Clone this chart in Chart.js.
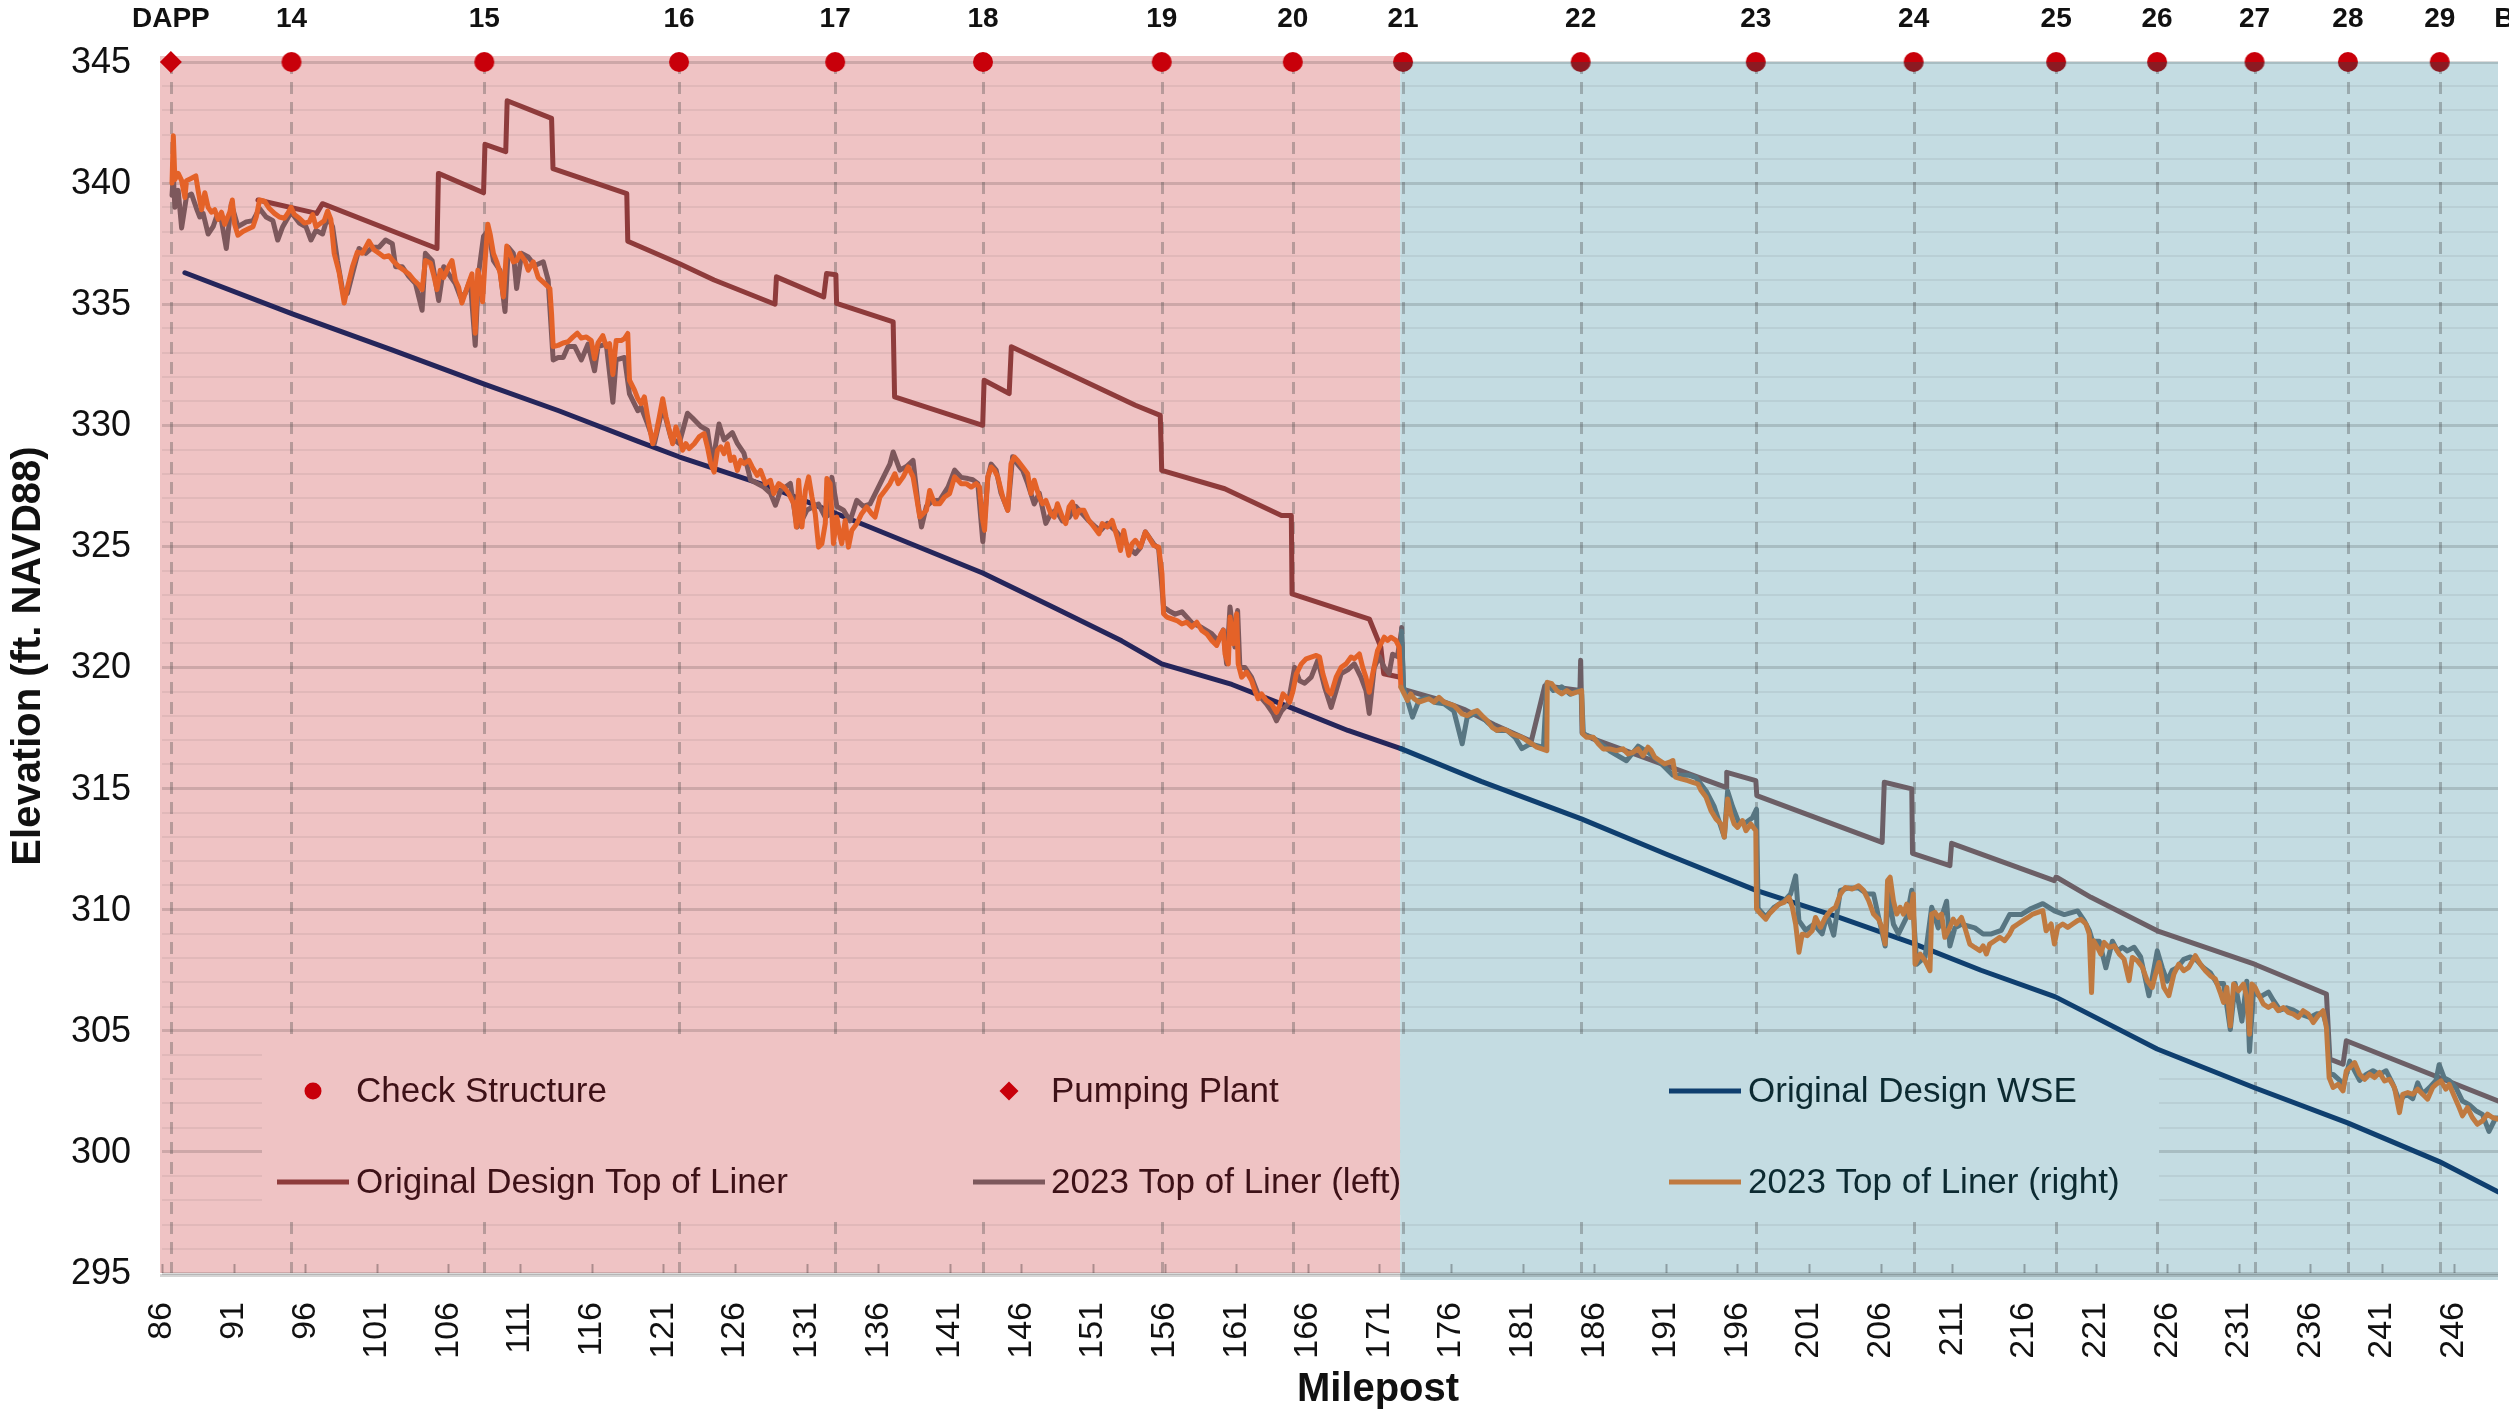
<!DOCTYPE html>
<html>
<head>
<meta charset="utf-8">
<title>Elevation profile by milepost</title>
<script src="https://cdn.jsdelivr.net/npm/chart.js@4.4.1/dist/chart.umd.min.js"></script>
<style>
  html, body { margin: 0; padding: 0; background: #ffffff; overflow: hidden; }
  #profile { display: block; }
</style>
</head>
<body>
<canvas id="profile" width="2509" height="1411"></canvas>
<script>
// ---------------- data ----------------
// Structures along the canal: names shown above the plot, markers on the 345 ft line
const structureNames = ['DAPP','14','15','16','17','18','19','20','21','22','23','24','25','26','27','28','29','BVPP'];
const structureMileposts = [86.62,95.04,108.5,122.1,133.0,143.32,155.8,164.95,172.65,185.05,197.28,208.3,218.25,225.3,232.1,238.62,245.03,251.5];
const structureKinds = ['pump','check','check','check','check','check','check','check','check','check','check','check','check','check','check','check','check','pump'];

const xTickValues = [86,91,96,101,106,111,116,121,126,131,136,141,146,151,156,161,166,171,176,181,186,191,196,201,206,211,216,221,226,231,236,241,246];
const yTickValues = [295,300,305,310,315,320,325,330,335,340,345];

// milepost where the first (red) reach ends and the second (blue) reach starts
const reachBoundary = 172.45;

// [milepost, elevation ft]
const wseProfile = [[87.6,336.3],[95.1,334.6],[102.1,333.1],[108.5,331.7],[113.7,330.6],[119.2,329.35],[122.1,328.7],[128.5,327.45],[135.4,325.8],[143.3,323.9],[148.2,322.5],[153.0,321.1],[155.8,320.15],[160.7,319.3],[165.0,318.3],[168.8,317.4],[172.5,316.65],[178.1,315.3],[185.1,313.75],[191.0,312.3],[197.3,310.8],[203.0,309.7],[208.3,308.6],[213.0,307.5],[218.2,306.4],[225.3,304.25],[232.1,302.65],[238.6,301.2],[245.0,299.6],[249.1,298.35]];

const designLiner = [[92.7,339.3],[96.8,338.75],[97.2,339.15],[105.2,337.3],[105.3,340.4],[108.45,339.6],[108.55,341.6],[110.0,341.3],[110.1,343.4],[113.2,342.67],[113.3,340.6],[118.45,339.57],[118.52,337.6],[122.1,336.68],[124.55,336.0],[128.8,335.0],[128.9,336.13],[132.2,335.3],[132.4,336.27],[133.05,336.22],[133.1,335.03],[137.05,334.27],[137.15,331.17],[143.3,330.0],[143.4,331.86],[145.15,331.31],[145.3,333.24],[153.96,330.83],[155.7,330.41],[155.8,328.14],[160.2,327.38],[164.16,326.28],[164.85,326.28],[164.9,323.04],[170.3,322.0],[171.1,320.84],[171.3,319.74],[172.45,319.6],[172.55,321.65],[172.68,319.1],[175.0,318.7],[177.0,318.25],[179.0,317.65],[181.6,316.95],[182.55,319.25],[185.0,319.05],[185.05,320.3],[185.15,317.3],[185.93,317.05],[195.2,315.05],[195.25,315.67],[197.28,315.33],[197.35,314.71],[206.1,312.78],[206.25,315.26],[208.17,314.99],[208.22,312.33],[210.83,311.82],[210.95,312.74],[218.12,311.2],[218.25,311.35],[220.68,310.51],[225.31,309.13],[232.1,307.75],[237.12,306.52],[237.36,303.83],[238.28,303.62],[238.51,304.59],[249.1,302.1]];

const liner2023Left = [[86.7,339.5],[86.79,340.3],[86.9,339.0],[87.13,339.7],[87.37,338.15],[87.71,339.45],[88.06,339.55],[88.41,338.95],[88.64,338.6],[88.87,338.75],[89.22,337.9],[89.57,338.2],[89.8,338.6],[90.15,338.45],[90.49,337.3],[90.84,339.15],[91.3,338.2],[91.88,338.4],[92.35,338.45],[92.81,338.95],[93.27,338.6],[93.74,338.45],[94.08,337.65],[94.43,338.2],[95.01,338.8],[95.59,338.35],[96.05,338.2],[96.4,337.65],[96.75,338.05],[97.21,337.9],[97.56,338.6],[97.91,338.2],[98.25,336.8],[98.6,335.6],[98.95,335.45],[99.3,336.25],[99.76,337.3],[100.22,337.1],[100.69,337.35],[101.15,337.35],[101.61,337.65],[102.08,337.5],[102.31,336.55],[102.77,336.55],[103.23,336.15],[103.7,335.85],[104.16,334.75],[104.39,337.1],[104.86,336.8],[105.32,335.15],[105.67,336.55],[106.01,336.25],[106.48,335.85],[106.83,335.3],[107.17,335.45],[107.52,336.0],[107.87,333.3],[108.1,336.25],[108.45,337.8],[108.79,338.05],[109.14,336.8],[109.6,336.4],[109.95,334.7],[110.18,337.35],[110.53,337.1],[110.76,335.65],[111.11,337.1],[111.57,336.95],[112.04,336.6],[112.62,336.75],[112.96,336.0],[113.31,332.7],[113.66,332.8],[114.01,332.8],[114.35,333.25],[114.82,333.25],[115.28,332.7],[115.74,333.35],[116.2,332.25],[116.44,333.25],[117.02,333.35],[117.48,330.95],[117.71,332.7],[118.29,332.8],[118.64,331.3],[119.22,330.6],
  [119.45,330.75],[119.91,330.05],[120.38,329.25],[120.96,330.75],[121.53,329.5],[122.11,329.25],[122.69,330.5],[123.04,330.3],[123.62,329.95],[124.08,329.8],[124.43,328.4],[124.89,330.05],[125.24,329.4],[125.82,329.7],[126.17,329.25],[126.63,328.85],[127.09,327.75],[127.56,327.6],[128.02,327.45],[128.48,327.2],[128.83,326.7],[129.18,327.3],[129.87,327.6],[130.34,325.8],[130.57,325.95],[131.03,326.5],[131.5,326.65],[131.84,326.75],[132.31,326.2],[132.54,326.3],[132.77,327.85],[133.12,326.65],[133.58,326.5],[134.04,326.05],[134.51,326.9],[134.97,326.65],[135.43,326.75],[135.9,327.3],[136.36,327.85],[136.82,328.4],[137.05,328.9],[137.52,328.15],[137.98,328.3],[138.44,328.55],[138.79,326.75],[139.03,325.8],[139.37,326.65],[139.83,326.9],[140.3,326.9],[140.88,327.45],[141.34,328.15],[141.8,327.85],[142.27,327.8],[142.61,327.75],[142.96,327.6],[143.31,325.2],[143.66,327.85],[143.89,328.4],[144.24,328.15],[144.58,327.2],[145.05,326.5],[145.39,328.7],[145.74,328.4],[146.09,328.15],[146.44,327.6],[146.9,326.75],[147.25,327.2],[147.71,325.95],[148.06,326.35],[148.41,326.5],[148.87,326.05],[149.33,326.2],[149.8,326.65],[150.26,326.35],[150.72,326.05],[151.19,325.8],[151.53,325.65],[152.0,325.95],[152.57,325.65],[152.92,325.4],
  [153.04,325.4],[153.5,324.95],[153.96,324.7],[154.31,324.95],[154.66,325.6],[155.24,325.1],[155.59,324.9],[155.93,322.5],[156.28,322.35],[156.74,322.2],[157.21,322.3],[157.9,321.85],[158.6,321.65],[159.29,321.4],[159.75,321.1],[160.1,321.55],[160.33,320.15],[160.57,322.5],[160.91,320.85],[161.1,322.35],[161.26,320.0],[161.61,320.0],[162.07,319.6],[162.53,318.9],[163.11,318.5],[163.58,318.1],[163.81,317.8],[164.16,318.2],[164.62,318.5],[165.08,320.0],[165.43,319.45],[165.78,319.35],[166.24,319.6],[166.7,320.3],[167.17,319.2],[167.63,318.35],[167.98,319.05],[168.33,319.75],[168.79,319.9],[169.25,320.15],[169.71,319.6],[170.06,319.05],[170.29,318.1],[170.64,320.0],[170.99,320.45],[171.34,320.0],[171.68,319.75],[171.92,320.55],[172.26,320.45],[172.54,321.5],[172.68,319.2],[172.96,318.65],[173.31,317.95],[173.77,318.65],[174.35,318.75],[174.93,318.55],[175.51,318.5],[176.2,318.2],[176.78,316.85],[177.13,317.95],[177.82,318.15],[178.52,317.75],[179.21,317.4],[179.91,317.4],[180.49,317.1],[180.95,316.65],[181.53,316.85],[182.45,316.7],[182.69,319.35],[183.15,319.05],[183.73,319.2],[184.31,318.9],[184.89,319.05],[185.12,318.9],[185.24,317.25],
  [185.93,317.1],[187.09,316.55],[188.25,316.15],[189.06,316.75],[189.87,316.45],[190.56,316.1],[191.49,315.55],[192.07,315.55],[192.65,315.55],[193.11,315.45],[193.81,314.9],[194.38,314.25],[195.08,313.0],[195.31,314.9],[195.66,314.25],[196.12,313.55],[196.59,313.6],[197.05,313.8],[197.33,314.15],[197.44,310.05],[197.98,309.7],[198.55,310.1],[199.25,310.35],[199.71,310.65],[200.06,311.4],[200.29,309.55],[200.76,309.15],[201.33,309.4],[201.91,309.0],[202.26,309.8],[202.72,308.95],[203.19,310.8],[203.77,310.9],[204.46,310.9],[205.04,310.65],[205.5,310.65],[205.85,309.7],[206.31,308.5],[206.55,310.65],[206.89,309.4],[207.24,309.0],[207.82,309.7],[208.17,310.8],[208.52,307.75],[209.1,308.05],[209.56,310.1],[210.02,309.25],[210.6,310.35],[210.83,308.5],[211.18,309.25],[211.64,309.4],[212.57,309.25],[213.15,309.0],[213.73,309.0],[214.42,309.15],[215.0,309.8],[215.81,309.8],[216.51,310.05],[217.32,310.25],[218.13,309.95],[218.82,309.8],[219.75,309.95],
  [220.21,309.55],[220.56,309.15],[220.79,308.7],[221.26,308.7],[221.72,307.6],[222.18,308.7],[222.53,308.3],[222.88,308.45],[223.22,308.3],[223.69,308.45],[224.15,308.05],[224.73,306.45],[225.31,308.3],[225.66,307.6],[226.0,307.05],[226.35,307.5],[226.7,307.6],[227.16,307.95],[227.63,308.05],[228.09,307.9],[228.55,307.6],[229.02,307.4],[229.48,306.95],[229.94,306.95],[230.41,305.05],[230.75,306.95],[231.22,305.4],[231.56,307.05],[231.75,304.15],[232.03,306.65],[232.49,306.4],[233.07,306.6],[233.42,306.25],[233.88,305.85],[234.34,305.95],[234.81,305.85],[235.27,305.7],[235.96,305.55],[236.43,305.7],[236.89,305.7],[237.17,305.15],[237.36,303.2],[237.59,303.2],[238.05,302.95],[238.28,302.65],[238.75,303.75],[239.09,303.35],[239.44,302.95],[239.9,303.2],[240.37,303.35],[240.83,303.2],[241.29,303.35],[241.76,302.8],[242.22,302.1],[242.68,302.4],[243.15,302.2],[243.49,302.85],[243.84,302.4],[244.31,302.65],[244.77,302.95],[244.99,303.6],[245.35,303.05],[245.69,302.95],[246.16,302.65],[246.62,302.1],[247.08,301.95],[247.55,301.7],[248.01,301.55],[248.47,300.85],[248.94,301.4],[249.1,301.4]];

const liner2023Right = [[86.7,340.0],[86.79,341.95],[86.9,340.15],[87.13,340.4],[87.37,340.1],[87.6,339.4],[87.71,340.1],[88.06,340.2],[88.36,340.3],[88.52,339.7],[88.76,338.9],[88.99,339.6],[89.22,339.0],[89.45,338.8],[89.68,338.9],[89.92,338.5],[90.15,338.8],[90.38,338.3],[90.73,338.8],[90.91,339.3],[91.07,338.3],[91.3,337.85],[91.65,338.0],[92.0,338.1],[92.35,338.2],[92.58,338.6],[92.81,339.3],[93.16,339.25],[93.5,338.95],[93.85,338.75],[94.2,338.6],[94.55,338.55],[94.78,338.75],[95.01,339.0],[95.24,338.7],[95.59,338.55],[95.94,338.35],[96.28,338.4],[96.52,338.7],[96.75,338.2],[97.1,338.35],[97.33,338.45],[97.56,338.85],[97.79,338.5],[98.02,337.1],[98.37,336.3],[98.72,335.05],[98.95,335.7],[99.3,336.55],[99.64,337.15],[99.99,337.1],[100.45,337.6],[100.8,337.25],[101.15,337.1],[101.5,336.95],[101.84,337.0],[102.19,336.75],[102.54,336.55],[102.89,336.4],[103.23,336.25],[103.58,336.0],[103.93,335.8],[104.16,335.6],[104.39,336.8],[104.74,336.7],[104.97,336.2],[105.2,335.6],[105.43,336.4],[105.67,336.1],[106.01,336.55],[106.25,336.8],[106.48,336.0],[106.71,335.7],[106.94,335.05],[107.17,335.45],[107.4,335.85],[107.64,336.25],[107.87,333.8],[108.05,336.4],[108.21,336.0],[108.38,335.1],[108.56,336.8],[108.75,338.3],[108.91,337.9],[109.14,337.1],[109.37,336.75],[109.6,336.3],[109.84,335.3],[110.07,337.4],[110.3,337.1],[110.53,336.75],[110.76,336.8],[110.99,337.1],[111.34,336.8],[111.57,336.4],[111.92,336.75],[112.27,336.1],[112.73,335.85],[113.08,335.65],[113.2,334.6],[113.31,333.25],[113.66,333.3],[114.01,333.4],[114.35,333.45],[114.7,333.65],[115.0,333.8],[115.28,333.6],[115.63,333.65],[115.97,333.5],[116.2,332.75],[116.44,333.4],[116.78,333.7],[117.02,333.25],[117.25,333.37],[117.48,332.1],[117.71,333.5],[118.06,333.5],[118.29,333.58],[118.52,333.79],[118.64,331.86],[118.99,331.45],[119.22,331.1],
  [119.45,330.9],[119.68,331.17],[119.91,330.34],[120.26,329.24],[120.49,329.66],[120.72,330.34],[120.96,331.1],[121.19,330.34],[121.42,329.79],[121.65,329.24],[121.88,329.93],[122.11,329.52],[122.35,328.97],[122.58,329.24],[122.81,329.04],[123.16,329.24],[123.5,329.52],[123.85,329.66],[124.08,329.11],[124.31,328.42],[124.55,328.07],[124.78,328.97],[125.01,329.11],[125.24,328.83],[125.47,329.24],[125.7,328.55],[125.93,328.69],[126.17,328.14],[126.4,328.55],[126.63,328.42],[126.98,328.55],[127.21,328.28],[127.56,327.93],[127.79,328.14],[128.14,327.59],[128.48,327.73],[128.72,327.18],[129.06,327.59],[129.41,327.45],[129.76,327.18],[130.11,326.76],[130.29,325.8],[130.45,327.73],[130.68,325.8],[130.92,327.31],[131.15,327.87],[131.38,327.04],[131.61,326.35],[131.84,324.97],[132.07,325.11],[132.31,325.94],[132.42,327.8],[132.65,327.59],[132.88,325.11],[133.12,326.21],[133.35,325.39],[133.46,325.11],[133.7,326.07],[133.93,324.97],[134.16,325.66],[134.51,325.94],[134.85,326.35],[135.2,326.63],[135.55,326.35],[135.78,326.21],[136.13,327.04],[136.48,327.31],[136.82,327.59],[137.17,328.0],[137.4,327.59],[137.75,327.87],[138.1,328.28],[138.44,327.87],[138.68,327.04],[138.91,326.21],[139.37,326.49],[139.6,327.31],[139.95,326.76],[140.3,326.76],[140.64,327.04],[140.99,327.18],[141.34,327.87],[141.57,327.73],[141.8,327.59],[142.15,327.59],[142.5,327.45],[142.85,327.59],[143.08,327.45],[143.26,326.21],[143.43,325.66],[143.66,327.87],[143.89,328.28],[144.12,328.14],[144.35,327.87],[144.7,327.04],[145.05,326.49],[145.28,328.42],[145.51,328.69],[145.74,328.55],[146.09,328.28],[146.44,328.0],[146.67,327.18],[146.9,327.73],[147.25,327.04],[147.48,326.76],[147.71,326.9],[148.06,326.35],[148.29,326.21],[148.52,326.76],[148.87,326.21],[149.1,325.94],[149.33,326.63],[149.56,326.83],[149.8,326.21],[150.03,326.49],[150.37,326.49],[150.72,326.07],[151.07,325.8],[151.42,325.52],[151.65,325.94],[152.0,325.8],[152.34,326.07],[152.69,325.39],[152.92,324.83],[153.15,325.66],[153.5,324.63],[153.73,325.11],
  [153.96,325.25],[154.31,324.97],[154.66,325.59],[154.89,325.39],[155.24,325.04],[155.59,324.97],[155.82,323.87],[155.93,322.22],[156.16,322.08],[156.51,322.01],[156.86,321.94],[157.21,321.8],[157.55,321.87],[157.9,321.67],[158.25,321.87],[158.6,321.53],[158.94,321.39],[159.29,321.12],[159.64,320.91],[159.94,321.39],[160.1,321.53],[160.22,320.56],[160.45,320.15],[160.57,322.08],[160.8,320.98],[161.03,322.22],[161.14,320.15],[161.38,319.6],[161.72,319.81],[162.07,319.46],[162.3,319.05],[162.53,318.71],[162.77,318.91],[163.11,318.64],[163.46,318.5],[163.81,318.15],[164.04,318.43],[164.27,318.91],[164.5,318.77],[164.74,318.57],[164.97,319.05],[165.2,319.74],[165.55,320.15],[165.89,320.36],[166.24,320.43],[166.59,320.5],[166.82,320.43],[167.05,319.74],[167.4,319.05],[167.63,318.91],[167.98,319.6],[168.33,320.01],[168.67,320.15],[169.02,320.43],[169.25,320.36],[169.6,320.56],[169.83,320.01],[170.06,319.6],[170.29,318.98],[170.53,319.74],[170.87,320.7],[171.1,320.98],[171.34,321.25],[171.57,321.12],[171.8,321.25],[172.15,321.12],[172.38,320.84],[172.5,319.19],[172.73,318.91],[172.96,318.64],[173.19,318.91],[173.42,318.71],[173.77,318.57],[174.12,318.64],[174.46,318.71],[174.81,318.57],[175.16,318.77],[175.51,318.57],[175.85,318.5],[176.2,318.43],[176.55,318.22],[176.78,318.08],[177.13,318.01],[177.48,318.15],[177.82,318.22],[178.17,318.01],[178.52,317.81],[178.87,317.53],[179.21,317.4],[179.56,317.46],[179.91,317.4],[180.26,317.26],[180.6,317.19],[180.95,317.12],[181.3,316.98],[181.65,316.85],[181.99,316.71],[182.34,316.64],[182.69,316.57],[182.72,319.39],[183.03,319.33],[183.38,319.05],[183.73,318.91],[184.08,319.05],[184.42,318.91],[184.77,318.98],[185.12,319.05],[185.19,317.26],[185.47,317.12],
  [185.93,317.12],[186.28,316.85],[186.62,316.64],[187.09,316.64],[187.55,316.57],[188.01,316.64],[188.36,316.43],[188.71,316.5],[189.06,316.64],[189.4,316.36],[189.75,316.71],[189.98,316.57],[190.22,316.3],[190.56,316.16],[190.91,316.02],[191.26,316.09],[191.49,316.16],[191.67,315.47],[192.07,315.4],[192.53,315.33],[192.88,315.26],[193.23,315.19],[193.46,314.92],[193.81,314.64],[194.15,314.09],[194.5,313.75],[194.85,313.54],[195.08,313.0],[195.31,314.57],[195.54,313.95],[195.77,313.54],[196.01,313.4],[196.35,313.68],[196.59,313.26],[196.93,313.54],[197.28,313.26],[197.33,310.03],[197.63,309.82],[197.98,309.61],[198.21,309.82],[198.55,310.03],[198.9,310.23],[199.25,310.3],[199.6,310.51],[199.83,310.1],[200.06,309.41],[200.29,308.24],[200.52,308.99],[200.87,308.93],[201.22,309.13],[201.45,309.68],[201.8,309.27],[202.14,309.68],[202.49,309.96],[202.84,310.1],[203.19,310.65],[203.53,310.92],[204.0,310.85],[204.46,310.99],[204.81,310.79],[205.16,310.37],[205.5,309.82],[205.85,309.61],[206.08,309.27],[206.31,308.58],[206.48,311.2],[206.66,311.34],[206.89,310.37],[207.12,309.82],[207.36,310.1],[207.59,309.82],[207.82,310.23],[208.05,309.68],[208.28,310.65],[208.4,307.75],[208.75,308.17],[209.1,307.89],[209.44,307.48],[209.56,309.82],[209.79,309.89],[210.02,309.68],[210.25,309.82],[210.48,308.86],[210.83,309.27],[211.06,309.61],[211.29,309.41],[211.64,309.68],[211.87,309.27],[212.22,308.58],[212.57,308.44],[212.92,308.31],[213.15,308.51],[213.38,308.17],[213.61,308.58],[213.96,308.72],[214.31,308.86],[214.65,308.72],[215.0,309.0],[215.23,309.27],[215.58,309.41],[215.93,309.55],[216.28,309.68],[216.62,309.82],[216.97,309.89],[217.32,309.96],[217.55,309.13],[217.9,309.41],[218.13,308.58],[218.36,309.27],[218.71,309.41],[219.06,309.27],[219.4,309.41],[219.75,309.55],
  [219.98,309.6],[220.33,309.41],[220.56,309.0],[220.72,306.58],[220.86,308.72],[221.14,308.44],[221.37,308.17],[221.6,308.65],[221.95,308.44],[222.3,308.51],[222.65,308.17],[222.99,307.96],[223.34,307.07],[223.57,308.03],[223.92,307.89],[224.27,307.62],[224.61,307.07],[224.96,306.79],[225.19,307.34],[225.43,307.82],[225.77,306.79],[226.12,306.45],[226.47,307.34],[226.81,307.75],[227.16,307.48],[227.51,307.62],[227.97,308.1],[228.32,307.75],[228.67,307.48],[229.02,307.27],[229.36,307.14],[229.71,306.58],[229.94,306.17],[230.17,306.79],[230.41,305.2],[230.64,306.93],[230.98,306.65],[231.33,306.93],[231.56,306.38],[231.75,304.86],[231.91,306.93],[232.14,306.79],[232.37,306.51],[232.72,306.1],[233.07,305.96],[233.42,306.1],[233.76,305.83],[234.11,305.96],[234.46,305.76],[234.81,305.69],[235.15,305.55],[235.5,305.83],[235.85,305.69],[236.2,305.34],[236.54,305.62],[236.89,305.83],[237.12,305.14],[237.31,303.07],[237.59,302.66],[237.93,302.79],[238.28,302.52],[238.51,303.35],[238.75,303.48],[239.09,303.69],[239.44,303.21],[239.79,303.0],[240.13,303.21],[240.48,303.07],[240.83,303.28],[241.18,302.93],[241.52,303.0],[241.87,302.66],[242.22,301.62],[242.45,302.38],[242.8,302.45],[243.15,302.38],[243.49,302.59],[243.84,302.38],[244.19,302.18],[244.54,302.66],[244.77,302.79],[245.12,302.93],[245.46,302.59],[245.69,302.79],[246.04,302.31],[246.39,301.83],[246.62,301.49],[246.97,301.83],[247.31,301.42],[247.66,301.14],[248.01,301.28],[248.36,301.56],[248.71,301.42],[249.1,301.35]];

// ---------------- styling ----------------
const FONT = '"Liberation Sans", Arial, Helvetica, sans-serif';
const PINK_BG = '#EFC3C4';
const BLUE_BG = '#C4DCE2';
const PINK_TEXT = '#3D1117';
const BLUE_TEXT = '#0C2A31';
const MARKER_RED = '#C8000A';
const MARKER_DARK = '#8C1A22';

// line colour in the first reach / second reach
const seriesColors = {
  'Original Design WSE': ['#25255A', '#0F3F6F'],
  'Original Design Top of Liner': ['#8E3B3B', '#6C5F66'],
  '2023 Top of Liner (left)': ['#7D585C', '#587682'],
  '2023 Top of Liner (right)': ['#E46228', '#C07A40']
};

function toPoints(pairs) { return pairs.map(p => ({ x: p[0], y: p[1] })); }

function reachColor(label, mp) {
  const c = seriesColors[label];
  return mp < reachBoundary ? c[0] : c[1];
}

function markerImage(topColor, bottomColor) {
  const c = document.createElement('canvas');
  c.width = 22; c.height = 22;
  const g = c.getContext('2d');
  g.save();
  g.beginPath(); g.arc(11, 11, 10, 0, Math.PI * 2); g.closePath(); g.clip();
  g.fillStyle = topColor; g.fillRect(0, 0, 22, 11);
  g.fillStyle = bottomColor; g.fillRect(0, 11, 22, 11);
  g.restore();
  return c;
}
const markerFirstReach = markerImage(MARKER_RED, MARKER_RED);
const markerSecondReach = markerImage(MARKER_RED, MARKER_DARK);

const checkPoints = [];
const pumpPoints = [];
structureMileposts.forEach((mp, i) => {
  const p = { x: mp, y: 345 };
  if (structureKinds[i] === 'pump') pumpPoints.push(p); else checkPoints.push(p);
});

function lineDataset(label, pairs) {
  const c = seriesColors[label];
  return {
    label: label,
    data: toPoints(pairs),
    showLine: true,
    borderColor: c[0],
    borderWidth: 5,
    pointRadius: 0,
    pointHoverRadius: 0,
    tension: 0,
    borderJoinStyle: 'round',
    borderCapStyle: 'round',
    segment: { borderColor: ctx => reachColor(label, ctx.p0.parsed.x) }
  };
}

// ---------------- decorations drawn around the datasets ----------------
const LEGEND_BOX = { left: 262, right: 2159, top: 1040, bottom: 1215 };
const LEGEND_ROWS = [1091, 1182];
const LEGEND_COLS = [{ sym: 313, text: 356 }, { sym: 1009, text: 1051 }, { sym: 1705, text: 1748 }];
const legendOrder = [
  ['Check Structure', 0, 0], ['Pumping Plant', 0, 1], ['Original Design WSE', 0, 2],
  ['Original Design Top of Liner', 1, 0], ['2023 Top of Liner (left)', 1, 1], ['2023 Top of Liner (right)', 1, 2]
];

function splitText(ctx, text, x, y, bx, w, h) {
  ctx.save(); ctx.beginPath(); ctx.rect(0, 0, bx, h); ctx.clip();
  ctx.fillStyle = PINK_TEXT; ctx.fillText(text, x, y); ctx.restore();
  ctx.save(); ctx.beginPath(); ctx.rect(bx, 0, w - bx, h); ctx.clip();
  ctx.fillStyle = BLUE_TEXT; ctx.fillText(text, x, y); ctx.restore();
}

const profileDecor = {
  id: 'profileDecor',
  beforeDraw(chart) {
    const { ctx, chartArea: a } = chart;
    const bx = chart.scales.x.getPixelForValue(reachBoundary);
    ctx.save();
    ctx.fillStyle = '#ffffff';
    ctx.fillRect(0, 0, chart.width, chart.height);
    ctx.fillStyle = PINK_BG;
    ctx.fillRect(a.left - 2, a.top - 6, bx - a.left + 2, a.bottom - a.top + 6);
    ctx.fillStyle = BLUE_BG;
    ctx.fillRect(bx, a.top, a.right - bx, a.bottom - a.top + 7);
    ctx.restore();
  },
  beforeDatasetsDraw(chart) {
    const { ctx, chartArea: a } = chart;
    const xs = chart.scales.x;
    const bx = xs.getPixelForValue(reachBoundary);
    ctx.save();
    // dashed guides at each structure
    ctx.strokeStyle = 'rgba(70,70,70,0.33)';
    ctx.lineWidth = 3;
    ctx.setLineDash([12, 8]);
    structureMileposts.forEach(mp => {
      const px = Math.round(xs.getPixelForValue(mp)) + 0.5;
      if (px > a.right) return;
      ctx.beginPath(); ctx.moveTo(px, a.top); ctx.lineTo(px, a.bottom); ctx.stroke();
    });
    ctx.setLineDash([]);
    // bottom axis line and inside tick marks
    ctx.strokeStyle = 'rgba(0,0,0,0.17)';
    ctx.lineWidth = 3;
    ctx.beginPath(); ctx.moveTo(a.left - 2, a.bottom + 2.5); ctx.lineTo(a.right, a.bottom + 2.5); ctx.stroke();
    ctx.strokeStyle = 'rgba(0,0,0,0.28)';
    ctx.lineWidth = 2;
    xTickValues.forEach(v => {
      const px = Math.round(xs.getPixelForValue(v)) + 0.5;
      ctx.beginPath(); ctx.moveTo(px, a.bottom); ctx.lineTo(px, a.bottom - 9); ctx.stroke();
    });
    // legend panel hides grid and guides
    ctx.fillStyle = PINK_BG;
    ctx.fillRect(LEGEND_BOX.left, LEGEND_BOX.top, bx - LEGEND_BOX.left, LEGEND_BOX.bottom - LEGEND_BOX.top);
    ctx.fillStyle = BLUE_BG;
    ctx.fillRect(bx, LEGEND_BOX.top, LEGEND_BOX.right - bx, LEGEND_BOX.bottom - LEGEND_BOX.top);
    ctx.restore();
  },
  afterDatasetsDraw(chart) {
    const { ctx, chartArea: a, width: W, height: H } = chart;
    const xs = chart.scales.x, ys = chart.scales.y;
    const bx = xs.getPixelForValue(reachBoundary);
    ctx.save();

    // legend
    ctx.font = '35px ' + FONT;
    ctx.textAlign = 'left';
    ctx.textBaseline = 'middle';
    legendOrder.forEach(([label, row, col]) => {
      const y = LEGEND_ROWS[row];
      const c = LEGEND_COLS[col];
      if (label === 'Check Structure') {
        ctx.fillStyle = MARKER_RED;
        ctx.beginPath(); ctx.arc(c.sym, y, 8.5, 0, Math.PI * 2); ctx.fill();
      } else if (label === 'Pumping Plant') {
        ctx.fillStyle = MARKER_RED;
        ctx.beginPath();
        ctx.moveTo(c.sym, y - 9.5); ctx.lineTo(c.sym + 9.5, y); ctx.lineTo(c.sym, y + 9.5); ctx.lineTo(c.sym - 9.5, y);
        ctx.closePath(); ctx.fill();
      } else {
        ctx.strokeStyle = c.sym < bx ? seriesColors[label][0] : seriesColors[label][1];
        ctx.lineWidth = 5;
        ctx.beginPath(); ctx.moveTo(c.sym - 36, y); ctx.lineTo(c.sym + 36, y); ctx.stroke();
      }
      splitText(ctx, label, c.text, y + 1, bx, W, H);
    });

    // y tick labels
    ctx.fillStyle = '#111111';
    ctx.font = '36px ' + FONT;
    ctx.textAlign = 'right';
    ctx.textBaseline = 'middle';
    yTickValues.forEach(v => ctx.fillText(String(v), 131, ys.getPixelForValue(v) + 1));

    // x tick labels, rotated
    ctx.font = '34px ' + FONT;
    xTickValues.forEach(v => {
      const px = xs.getPixelForValue(v);
      ctx.save();
      ctx.translate(px, a.bottom + 29);
      ctx.rotate(-Math.PI / 2);
      ctx.textAlign = 'right';
      ctx.textBaseline = 'middle';
      ctx.fillText(String(v), 0, 0);
      ctx.restore();
    });

    // structure names above the plot
    ctx.font = 'bold 28px ' + FONT;
    ctx.textAlign = 'center';
    ctx.textBaseline = 'alphabetic';
    structureNames.forEach((name, i) => {
      ctx.fillText(name, xs.getPixelForValue(structureMileposts[i]), 27);
    });

    // axis titles
    ctx.font = 'bold 40px ' + FONT;
    ctx.textAlign = 'center';
    ctx.textBaseline = 'middle';
    ctx.fillText('Milepost', 1378, 1390);
    ctx.save();
    ctx.translate(29, 656);
    ctx.rotate(-Math.PI / 2);
    ctx.fillText('Elevation (ft. NAVD88)', 0, 0);
    ctx.restore();

    ctx.restore();
  }
};

// ---------------- chart ----------------
new Chart(document.getElementById('profile'), {
  type: 'scatter',
  data: {
    datasets: [
      {
        label: 'Check Structure',
        data: checkPoints,
        showLine: false,
        clip: false,
        pointRadius: 10,
        pointHoverRadius: 10,
        pointStyle: ctx => (ctx.raw && ctx.raw.x > reachBoundary ? markerSecondReach : markerFirstReach),
        backgroundColor: MARKER_RED,
        borderWidth: 0
      },
      {
        label: 'Pumping Plant',
        data: pumpPoints,
        showLine: false,
        clip: false,
        pointRadius: 11,
        pointHoverRadius: 11,
        pointStyle: 'rectRot',
        backgroundColor: MARKER_RED,
        borderColor: MARKER_RED,
        borderWidth: 0
      },
      lineDataset('2023 Top of Liner (right)', liner2023Right),
      lineDataset('2023 Top of Liner (left)', liner2023Left),
      lineDataset('Original Design Top of Liner', designLiner),
      lineDataset('Original Design WSE', wseProfile)
    ]
  },
  options: {
    responsive: false,
    animation: false,
    devicePixelRatio: 1,
    events: [],
    layout: { padding: { left: 162, top: 62, right: 0, bottom: 138 } },
    scales: {
      x: {
        type: 'linear',
        min: 86,
        max: 249.1,
        display: false
      },
      y: {
        type: 'linear',
        min: 295,
        max: 345,
        display: true,
        border: { display: false },
        ticks: { display: false, stepSize: 1, maxTicksLimit: 100 },
        grid: {
          drawTicks: false,
          color: ctx => (ctx.tick && ctx.tick.value % 5 === 0 ? 'rgba(0,0,0,0.14)' : 'rgba(0,0,0,0.055)'),
          lineWidth: ctx => (ctx.tick && ctx.tick.value % 5 === 0 ? 3 : 2)
        }
      }
    },
    plugins: {
      legend: { display: false },
      tooltip: { enabled: false }
    }
  },
  plugins: [profileDecor]
});
</script>
</body>
</html>
